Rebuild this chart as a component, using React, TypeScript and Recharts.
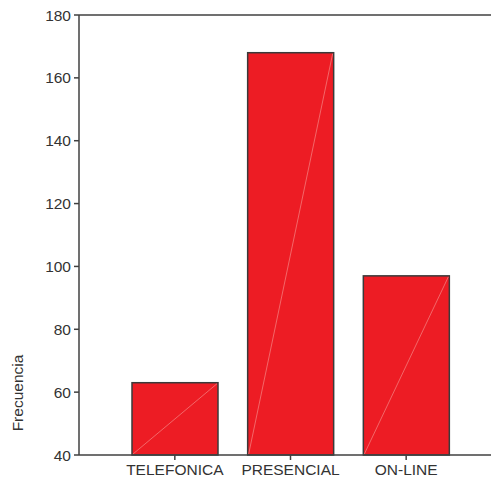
import { Bar, BarChart, ReferenceLine, XAxis, YAxis } from "recharts"

const categories = ["TELEFONICA", "PRESENCIAL", "ON-LINE"]
const frecuencia = [63, 168, 97]
const yTicks = [40, 60, 80, 100, 120, 140, 160, 180]

const data = categories.map((name, i) => ({ name, value: frecuencia[i] }))

const axisColor = "#404040"
const textColor = "#333333"

function BarWithDiagonal(props: any) {
  const { x, y, width, height } = props
  if (!height || height <= 0) return null
  return (
    <g>
      <rect x={x} y={y} width={width} height={height} fill="#ED1C24" stroke="#3a3a3a" strokeWidth={1.5} />
      <line x1={x + 1} y1={y + height - 1} x2={x + width - 1} y2={y + 1} stroke="#f47a7a" strokeWidth={0.8} />
    </g>
  )
}

function YLabel() {
  return (
    <text
      x={17}
      y={393}
      transform="rotate(-90 17 393)"
      textAnchor="middle"
      dominantBaseline="central"
      fill={textColor}
      fontSize={15.5}
      fontFamily="Liberation Sans, Arial, sans-serif"
    >
      Frecuencia
    </text>
  )
}

export default function App() {
  return (
    <div style={{ margin: -8, fontFamily: "Liberation Sans, Arial, sans-serif" }}>
      <BarChart width={499} height={484} data={data} margin={{ top: 15, right: 0, bottom: 0, left: 0 }}>
        <XAxis
          dataKey="name"
          height={29}
          padding={{ left: 38, right: 35 }}
          stroke={axisColor}
          strokeWidth={1.5}
          tickSize={5}
          tickMargin={4}
          tick={{ fill: textColor, fontSize: 15.5 }}
        />
        <YAxis
          width={79}
          domain={[40, 180]}
          ticks={yTicks}
          interval={0}
          stroke={axisColor}
          strokeWidth={1.5}
          tickSize={5}
          tickMargin={3}
          tick={{ fill: textColor, fontSize: 15.5 }}
          label={{ content: () => <YLabel /> }}
        />
        <ReferenceLine y={180} stroke={axisColor} strokeWidth={1.5} />
        <Bar dataKey="value" barSize={86} shape={BarWithDiagonal} isAnimationActive={false} />
      </BarChart>
    </div>
  )
}
